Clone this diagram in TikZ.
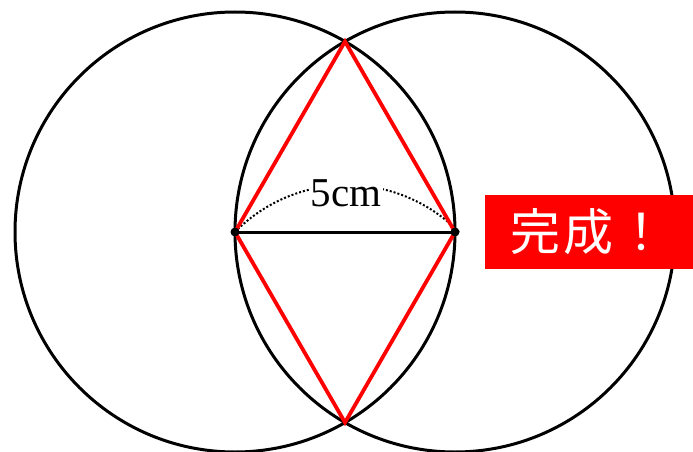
\documentclass[tikz,border=0pt]{standalone}
\usepackage{fontspec}
\setmainfont{Liberation Serif}
\newfontfamily\cjk{Noto Sans CJK JP}
\begin{document}
\begin{tikzpicture}[x=1pt,y=-1pt,
  circ/.style={draw=black,line width=3pt},
  redline/.style={draw=red,line width=3.8pt,line join=miter},
  seg/.style={draw=black,line width=3pt},
  dotarc/.style={draw=black,line width=2pt,dotted},
  lbl/.style={fill=white,inner sep=2pt,font=\fontsize{41}{44}\selectfont},
  badge/.style={fill=red,text=white,minimum width=208pt,minimum height=74pt,inner sep=0pt,font=\cjk\fontsize{50}{54}\selectfont}]
\useasboundingbox (0,0) rectangle (693,452);
\begin{scope}
\clip (0,0) rectangle (693,452);
\coordinate (A) at (235,232);
\coordinate (B) at (455,232);
\coordinate (T) at (345,41.5);
\coordinate (D) at (345,422.5);
\draw[circ] (A) circle[radius=220];
\draw[circ] (B) circle[radius=220];
\draw[dotarc] (A) arc[start angle=224.5,end angle=315.5,radius=157];
\node[lbl] (L) at (346,193) {5cm};
\draw[seg] (A) -- (B);
\draw[redline] (A) -- (T) -- (B) -- (D) -- cycle;
\fill (A) circle[radius=4.5];
\fill (B) circle[radius=4.5];
\node[badge,anchor=west] (K) at (485,232) {\hspace*{-2pt}完\kern3pt 成\kern3pt ！};
\end{scope}
\end{tikzpicture}
\end{document}
